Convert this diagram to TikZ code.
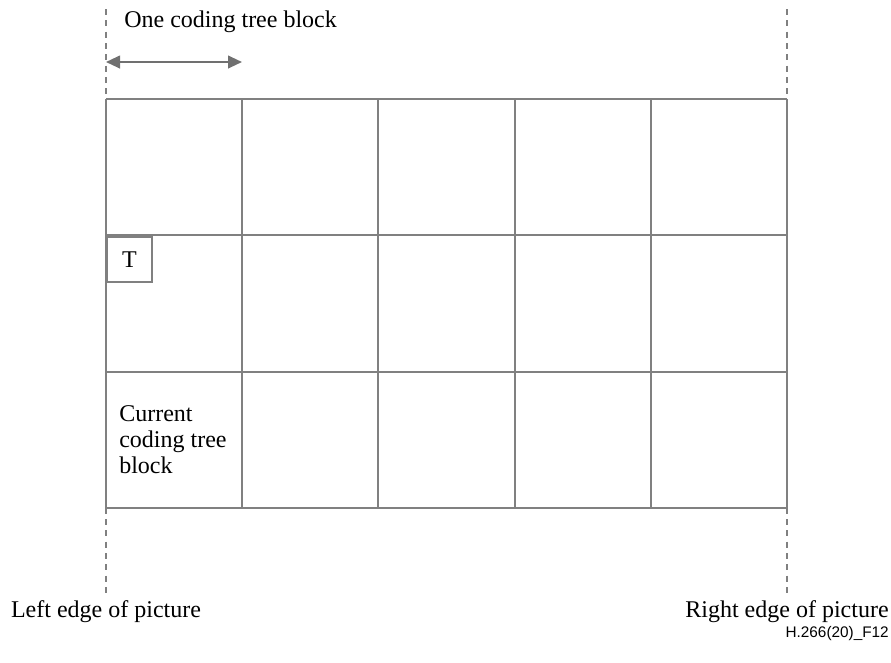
\documentclass[tikz,border=0pt]{standalone}
\usepackage{fontspec}
\setmainfont{Liberation Serif}
\newfontfamily\figfont{Liberation Sans}
\definecolor{linegray}{RGB}{128, 128, 128}
\definecolor{arrowgray}{RGB}{112, 112, 112}
\usepackage{tikz}
\usetikzlibrary{
  arrows.meta,
  positioning
}

\begin{document}
\begin{tikzpicture}[x=0.75pt, y=-0.75pt,
  gridline/.style={draw=linegray, line width=1.5pt},
  edgeline/.style={draw=linegray, line width=1.5pt, dash pattern=on 4.5pt off 4pt},
  txt/.style={font=\fontsize{18}{19.5}\selectfont, inner sep=0pt}]
\useasboundingbox (0,0) rectangle (891,662);

% picture edges
\coordinate (lefttop) at (106,9);
\coordinate (leftbot) at (106,598);
\coordinate (righttop) at (787,9);
\coordinate (rightbot) at (787,598);
\draw[edgeline] (lefttop) -- (leftbot);
\draw[edgeline] (righttop) -- (rightbot);

% grid of coding tree blocks
\foreach \c in {0,...,5}
  \draw[gridline] ({106+136.2*\c},99) -- ({106+136.2*\c},508);
\foreach \r in {0,...,3}
  \draw[gridline] (106,{99+136.3*\r}) -- (787,{99+136.3*\r});

% size of one block
\coordinate (ctbleft) at (106,62);
\coordinate (ctbright) at (242,62);
\draw[arrowgray, line width=1.5pt, {Triangle[length=10.5pt,width=9.5pt]}-{Triangle[length=10.5pt,width=9.5pt]}]
  (ctbleft) -- (ctbright);
\node[txt, anchor=west] (ctbtext) at (124,22) {One coding tree block};

% block T
\node[gridline, draw, minimum width=33.75pt, minimum height=33.75pt,
      anchor=north west, txt, inner sep=0pt] (tblock) at (106,236) {T};

% current block
\node[txt, anchor=north west, align=left] (current) at (119,405)
  {Current\\coding tree\\block};

% edge labels
\node[txt] (lefttext) [below=2pt of leftbot] {Left edge of picture};
\node[txt] (righttext) [below=2pt of rightbot] {Right edge of picture};
\node[font=\figfont\fontsize{11.5}{13}\selectfont, anchor=east, inner sep=0pt] (figid) at (889,634) {H.266(20)\_F12};
\end{tikzpicture}
\end{document}
